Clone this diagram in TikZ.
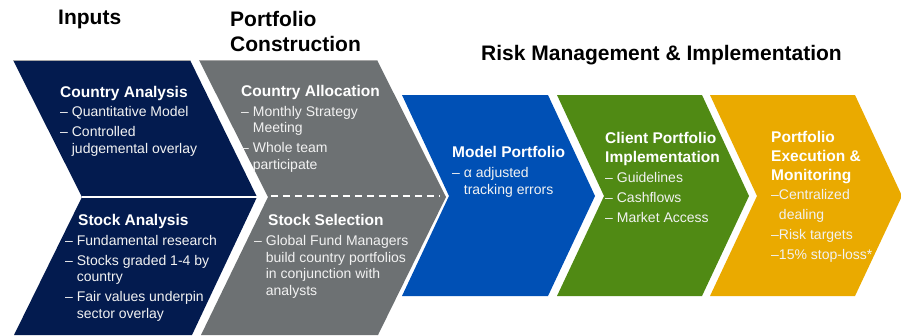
\documentclass[tikz,border=0pt]{standalone}
\usepackage{fontspec}
\setmainfont{Liberation Sans}
\usepackage{tikz}
\definecolor{pipenavy}{RGB}{3,27,79}
\definecolor{pipegray}{RGB}{109,113,115}
\definecolor{pipeblue}{RGB}{0,80,181}
\definecolor{pipegreen}{RGB}{80,138,20}
\definecolor{pipegold}{RGB}{234,170,0}
% base anchor of a multi-line node sits on its last line
\tikzset{
  stagetitle/.style={font=\fontsize{21}{25}\selectfont\bfseries, anchor=base west, inner sep=0pt, align=left},
  boxhead/.style={font=\fontsize{15.5}{19}\selectfont\bfseries, text=white, anchor=base west, inner sep=0pt, align=left},
  boxtext/.style={font=\fontsize{14}{16.5}\selectfont, text=white!90!gray, anchor=base west, inner sep=0pt, align=left},
}

\begin{document}
\begin{tikzpicture}[x=1pt, y=-1pt]
     \useasboundingbox (0,0) rectangle (901,335);
     %titles
     \node[stagetitle] (inputs) at (58,24) {Inputs};
     \node[stagetitle] (construct) at (230,51) {Portfolio\\Construction};
     \node[stagetitle] (riskimpl) at (481,60) {Risk Management \& Implementation};
     %inputs chevron
     \coordinate (inNotch) at (82,197);
     \coordinate (inTip) at (257,197);
     \fill[pipenavy] (13,60) -- (190,60) -- (inTip) -- (192,335) -- (14,335) -- (inNotch) -- cycle;
     \draw[gray!70, line width=0.8] (13,60.4) -- (190,60.4);
     \draw[white, line width=1.6] (inNotch) -- (inTip);
     %construction chevron
     \coordinate (pcNotch) at (268,197);
     \coordinate (pcTip) at (446,197);
     \fill[pipegray] (199,60) -- (377,60) -- (pcTip) -- (378,335) -- (201,335) -- (pcNotch) -- cycle;
     \draw[gray!70, line width=0.8] (199,60.4) -- (377,60.4);
     \draw[white, line width=1.6, dash pattern=on 7 off 5] (271,196) -- (440,196);
     %risk management chevrons
     \fill[pipeblue] (402,95) -- (548,95) -- (595,196) -- (548,296) -- (402,296) -- (449,196) -- cycle;
     \fill[pipegreen] (557,95) -- (702,95) -- (749,196) -- (702,296) -- (557,296) -- (604,196) -- cycle;
     \fill[pipegold] (710,95) -- (855,95) -- (902,196) -- (855,296) -- (710,296) -- (757,196) -- cycle;
     %inputs text
     \node[boxhead] (ctryHead) at (60,97) {Country Analysis};
     \node[boxtext] (ctryList) at (60,153) {-- Quantitative Model\\[3.5pt]-- Controlled\\\phantom{-- }judgemental overlay};
     \node[boxhead] (stkHead) at (78,225) {Stock Analysis};
     \node[boxtext] (stkList) at (65,318) {-- Fundamental research\\[3.5pt]-- Stocks graded 1-4 by\\\phantom{-- }country\\[3.5pt]-- Fair values underpin\\\phantom{-- }sector overlay};
     %construction text
     \node[boxhead] (allocHead) at (241,96) {Country Allocation};
     \node[boxtext] (allocList) at (241,169) {-- Monthly Strategy\\\phantom{-- }Meeting\\[3.5pt]-- Whole team\\\phantom{-- }participate};
     \node[boxhead] (selHead) at (268,225) {Stock Selection};
     \node[boxtext] (selList) at (254,295) {-- Global Fund Managers\\\phantom{-- }build country portfolios\\\phantom{-- }in conjunction with\\\phantom{-- }analysts};
     %risk management text
     \node[boxhead] (modelHead) at (452,157) {Model Portfolio};
     \node[boxtext] (modelList) at (452,194) {-- α adjusted\\\phantom{-- }tracking errors};
     \node[boxhead] (clientHead) at (605,162) {Client Portfolio\\Implementation};
     \node[boxtext] (clientList) at (605,222) {-- Guidelines\\[3.5pt]-- Cashflows\\[3.5pt]-- Market Access};
     \node[boxhead] (execHead) at (771,180) {Portfolio\\Execution \&\\Monitoring};
     \node[boxtext] (execList) at (771,259) {--Centralized\\[3.5pt]\phantom{--}dealing\\[3.5pt]--Risk targets\\[3.5pt]--15\% stop-loss*};
\end{tikzpicture}
\end{document}
